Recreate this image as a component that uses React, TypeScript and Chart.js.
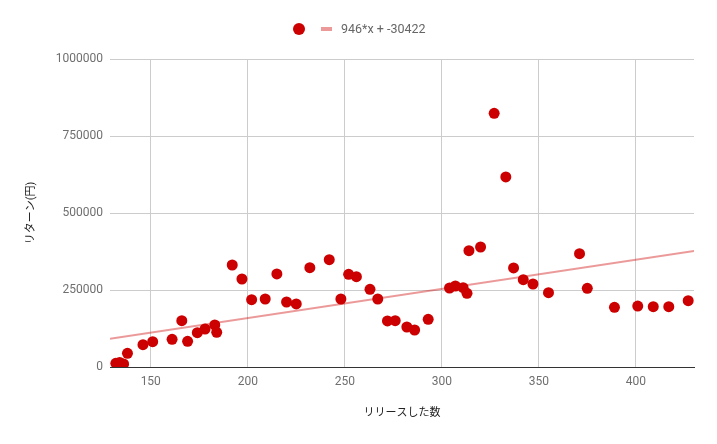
import { useEffect, useRef } from "react";
import { Chart, registerables } from "chart.js";

Chart.register(...registerables);

// リリースした数 (x) と リターン(円) (y)
const releases = [
  132, 134, 136, 138, 146, 151, 161, 166, 169, 174, 178, 183, 184, 192, 197,
  202, 209, 215, 220, 225, 232, 242, 248, 252, 256, 263, 267, 272, 276, 282,
  286, 293, 304, 307, 311, 313, 314, 320, 327, 333, 337, 342, 347, 355, 371,
  375, 389, 401, 409, 417, 427,
];
const returns = [
  12000, 15000, 10000, 44500, 72400, 82200, 90000, 150300, 83400, 111400,
  123400, 136400, 112700, 331200, 285700, 218500, 220800, 302000, 211000,
  204600, 322400, 348400, 220800, 301000, 293200, 252300, 220800, 149400,
  150300, 129900, 120100, 154900, 256500, 263000, 257500, 239300, 377600,
  389600, 823800, 617000, 321500, 283500, 269500, 241300, 367900, 255500,
  193800, 198000, 195800, 195800, 215300,
];

const xTicks = [150, 200, 250, 300, 350, 400];
const yTicks = [0, 250000, 500000, 750000, 1000000];

// 線形トレンドライン
const slope = 946;
const intercept = -30422;
const trendLabel = "946*x + -30422";

const xMin = 129;
const xMax = 430;

const RED = "#cc0000";
const TREND = "rgba(204, 0, 0, 0.4)";
const FONT = "Roboto, 'Noto Sans CJK JP', sans-serif";

// Google Charts 風の上部凡例
const topLegend = {
  id: "topLegend",
  afterDraw(chart: Chart) {
    const ctx = chart.ctx;
    ctx.save();
    ctx.fillStyle = RED;
    ctx.beginPath();
    ctx.arc(299, 29, 6, 0, Math.PI * 2);
    ctx.fill();
    ctx.strokeStyle = TREND;
    ctx.lineWidth = 4;
    ctx.beginPath();
    ctx.moveTo(321, 29);
    ctx.lineTo(332, 29);
    ctx.stroke();
    ctx.font = "12.5px " + FONT;
    ctx.fillStyle = "#666";
    ctx.textBaseline = "middle";
    ctx.fillText(trendLabel, 341, 30);
    ctx.restore();
  },
};

const App = () => {
  const canvasRef = useRef<HTMLCanvasElement | null>(null);

  useEffect(() => {
    if (!canvasRef.current) return;
    const points = releases.map((x, i) => ({ x, y: returns[i] }));
    const trend = [xMin, xMax].map((x) => ({ x, y: slope * x + intercept }));

    const chart = new Chart(canvasRef.current, {
      type: "scatter",
      data: {
        datasets: [
          {
            label: "",
            data: points,
            backgroundColor: RED,
            borderColor: RED,
            borderWidth: 0,
            pointRadius: 5.5,
            order: 0,
          },
          {
            type: "line",
            label: trendLabel,
            data: trend,
            borderColor: TREND,
            borderWidth: 2,
            pointRadius: 0,
            fill: false,
            order: 1,
          },
        ],
      },
      options: {
        animation: false,
        responsive: false,
        layout: { padding: { top: 59, right: 23, left: 0, bottom: 0 } },
        plugins: {
          legend: { display: false },
          tooltip: { enabled: false },
        },
        scales: {
          x: {
            type: "linear",
            min: xMin,
            max: xMax,
            afterBuildTicks: (s: any) => {
              s.ticks = xTicks.map((value) => ({ value }));
            },
            afterFit: (s: any) => {
              s.height = 77;
            },
            grid: { color: "#cccccc", drawTicks: false },
            border: { color: "#333333" },
            ticks: {
              padding: 8,
              color: "#6f6f6f",
              maxRotation: 0,
              font: { family: FONT, size: 12 },
              callback: (v: any) => String(v),
            },
            title: {
              display: true,
              text: "リリースした数",
              color: "#222",
              font: { family: FONT, size: 11 },
              padding: { bottom: 24 },
            },
          },
          y: {
            min: 0,
            max: 1000000,
            afterBuildTicks: (s: any) => {
              s.ticks = yTicks.map((value) => ({ value }));
            },
            afterFit: (s: any) => {
              s.width = 110;
            },
            grid: {
              color: (c: any) => (c.tick && c.tick.value === 0 ? "#333333" : "#cccccc"),
              drawTicks: false,
            },
            border: { display: false },
            ticks: {
              padding: 7,
              color: "#6f6f6f",
              font: { family: FONT, size: 12 },
              callback: (v: any) => String(v),
            },
            title: {
              display: true,
              text: "リターン(円)",
              color: "#222",
              font: { family: FONT, size: 11 },
              padding: { top: 25 },
            },
          },
        },
      },
      plugins: [topLegend],
    });

    return () => {
      chart.destroy();
    };
  }, []);

  return (
    <div style={{ position: "absolute", left: 0, top: 0, width: 717, height: 444, background: "#fff" }}>
      <canvas ref={canvasRef} width="717" height="444"></canvas>
    </div>
  );
};

export default App;
